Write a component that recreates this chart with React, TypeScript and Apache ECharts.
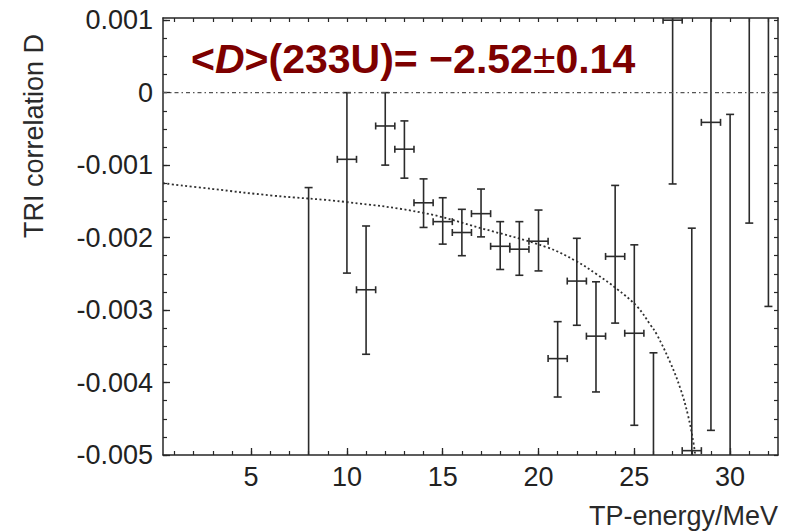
import React, { useEffect, useRef } from "react";
import * as echarts from "echarts";

// TP energy bins (MeV) and TRI correlation D in units of 1e-3
const energies = [8, 10, 11, 12, 13, 14, 15, 16, 17, 18, 19, 20, 21, 22, 23, 24, 25, 26, 27, 28, 29, 30, 31, 32];
const dValues = [-6.6, -0.92, -2.72, -0.46, -0.78, -1.52, -1.78, -1.93, -1.67, -2.12, -2.16, -2.05, -3.67, -2.6, -3.36, -2.26, -3.32, -6.5, 1.0, -4.94, -0.41, -5.6, 1.6, 1.3];
const dLower = [-9.0, -2.49, -3.61, -1.0, -1.18, -1.86, -2.09, -2.25, -1.99, -2.44, -2.52, -2.46, -4.2, -3.21, -4.13, -3.18, -4.59, -9.5, -1.26, -8.0, -4.66, -11.0, -1.8, -2.95];
const dUpper = [-1.31, 0.0, -1.84, 0.0, -0.39, -1.19, -1.45, -1.61, -1.33, -1.78, -1.78, -1.62, -3.16, -2.01, -2.61, -1.28, -2.1, -3.59, 2.5, -1.87, 3.8, -0.3, 5.2, 5.5];
const HALF_BIN = 0.5;

// fitted curve
const fitEnergy = [0.4, 3, 6.1, 10, 14, 17, 20.4, 22, 23, 24.1, 25.14, 25.83, 26.18, 26.87, 27.4, 27.8, 28.1, 28.2];
const fitD = [-1.25, -1.33, -1.42, -1.51, -1.66, -1.87, -2.13, -2.33, -2.5, -2.71, -2.95, -3.2, -3.34, -3.72, -4.08, -4.45, -4.85, -5.05];

// axis ticks and labels
const xLabelValues = [5, 10, 15, 20, 25, 30];
const xMinorTicks = Array.from({ length: 32 }, (_, i) => i + 1);
const yLabelValues = [-5, -4, -3, -2, -1, 0, 1];
const yMinorTicks = Array.from({ length: 25 }, (_, i) => -5 + i * 0.25);

const FONT = "'Liberation Sans', Arial, Helvetica, sans-serif";
const INK = "#262626";

export default function App() {
  const ref = useRef<HTMLDivElement>(null);

  useEffect(() => {
    document.body.style.margin = "0";
    if (!ref.current) return;
    const chart = echarts.init(ref.current, undefined, { renderer: "svg" });

    const bars = energies.map((e, i) => [e, dValues[i], dLower[i], dUpper[i]]);
    const fit = fitEnergy.map((e, i) => [e, fitD[i]]);
    const zeroLine = [
      [0.4, 0],
      [32.5, 0],
    ];

    const xBase = { type: "value", min: 0.4, max: 32.5, splitLine: { show: false } };
    const yBase = { type: "value", min: -5, max: 1.03, splitLine: { show: false } };
    const axisLine = { show: true, onZero: false, lineStyle: { color: INK, width: 1.5 } };
    const noLine = { show: false, onZero: false };

    chart.setOption({
      animation: false,
      backgroundColor: "#ffffff",
      grid: { left: 163, right: 12, top: 18, bottom: 76 },
      xAxis: [
        {
          ...xBase,
          position: "bottom",
          axisLine,
          axisTick: { show: true, inside: true, length: 7, customValues: xLabelValues, lineStyle: { color: INK, width: 1.3 } },
          axisLabel: {
            customValues: xLabelValues,
            color: "#222",
            fontFamily: FONT,
            fontSize: 27,
            margin: 8,
          },
        },
        {
          ...xBase,
          position: "bottom",
          axisLine: noLine,
          axisTick: { show: true, inside: true, length: 4, customValues: xMinorTicks, lineStyle: { color: INK, width: 1.2 } },
          axisLabel: { show: false },
        },
        {
          ...xBase,
          position: "top",
          axisLine,
          axisTick: { show: true, inside: true, length: 4, customValues: xMinorTicks, lineStyle: { color: INK, width: 1.2 } },
          axisLabel: { show: false },
        },
      ],
      yAxis: [
        {
          ...yBase,
          position: "left",
          axisLine,
          axisTick: { show: true, inside: true, length: 7, customValues: yLabelValues, lineStyle: { color: INK, width: 1.3 } },
          axisLabel: {
            customValues: yLabelValues,
            formatter: (v: number) => (v === 0 ? "0" : (v / 1000).toFixed(3)),
            color: "#222",
            fontFamily: FONT,
            fontSize: 27,
            margin: 10,
          },
        },
        {
          ...yBase,
          position: "left",
          axisLine: noLine,
          axisTick: { show: true, inside: true, length: 4, customValues: yMinorTicks, lineStyle: { color: INK, width: 1.2 } },
          axisLabel: { show: false },
        },
        {
          ...yBase,
          position: "right",
          axisLine,
          axisTick: { show: true, inside: true, length: 4, customValues: yMinorTicks, lineStyle: { color: INK, width: 1.2 } },
          axisLabel: { show: false },
        },
      ],
      series: [
        {
          type: "line",
          name: "zero",
          data: zeroLine,
          xAxisIndex: 0,
          yAxisIndex: 0,
          symbol: "none",
          silent: true,
          lineStyle: { color: "#555", width: 1.3, type: [4, 3, 1.5, 3] },
        },
        {
          type: "line",
          name: "fit",
          data: fit,
          xAxisIndex: 0,
          yAxisIndex: 0,
          symbol: "none",
          smooth: 0.4,
          clip: true,
          lineStyle: { color: "#303030", width: 1.8, type: [2, 2.5] },
        },
        {
          type: "custom",
          name: "D",
          data: bars,
          xAxisIndex: 0,
          yAxisIndex: 0,
          clip: true,
          encode: { x: 0, y: 1 },
          renderItem: (_params: any, api: any) => {
            const e = api.value(0);
            const d = api.value(1);
            const c = api.coord([e, d]);
            const lo = api.coord([e, api.value(2)]);
            const hi = api.coord([e, api.value(3)]);
            const l = api.coord([e - HALF_BIN, d]);
            const r = api.coord([e + HALF_BIN, d]);
            const capW = 4;
            const capH = 3.5;
            const style = { stroke: "#2b2b2b", lineWidth: 1.6 };
            const ln = (x1: number, y1: number, x2: number, y2: number) => ({
              type: "line",
              shape: { x1, y1, x2, y2 },
              style,
            });
            return {
              type: "group",
              children: [
                ln(c[0], hi[1], c[0], lo[1]),
                ln(c[0] - capW, hi[1], c[0] + capW, hi[1]),
                ln(c[0] - capW, lo[1], c[0] + capW, lo[1]),
                ln(l[0], c[1], r[0], c[1]),
                ln(l[0], c[1] - capH, l[0], c[1] + capH),
                ln(r[0], c[1] - capH, r[0], c[1] + capH),
              ],
            };
          },
        },
      ],
      graphic: [
        {
          type: "text",
          x: 34,
          y: 136,
          rotation: Math.PI / 2,
          style: {
            text: "TRI correlation D",
            fontFamily: FONT,
            fontSize: 27,
            fill: "#2a2a2a",
            align: "center",
            verticalAlign: "middle",
          },
        },
        {
          type: "text",
          right: 12,
          top: 502,
          style: {
            text: "TP-energy/MeV",
            fontFamily: FONT,
            fontSize: 27,
            fill: "#2a2a2a",
          },
        },
        {
          type: "text",
          left: 191,
          top: 38,
          style: {
            text: "{b|<}{i|D}{b|>(233U)= −2.52}{n|±}{b|0.14}",
            rich: {
              b: { fontFamily: FONT, fontSize: 41, fontWeight: "bold", fill: "#7d0000" },
              i: { fontFamily: FONT, fontSize: 41, fontWeight: "bold", fontStyle: "italic", fill: "#7d0000" },
              n: { fontFamily: FONT, fontSize: 41, fontWeight: "normal", fill: "#7d0000" },
            },
          },
        },
      ],
    });

    return () => chart.dispose();
  }, []);

  return <div ref={ref} style={{ position: "absolute", left: 0, top: 0, width: 790, height: 531 }} />;
}
